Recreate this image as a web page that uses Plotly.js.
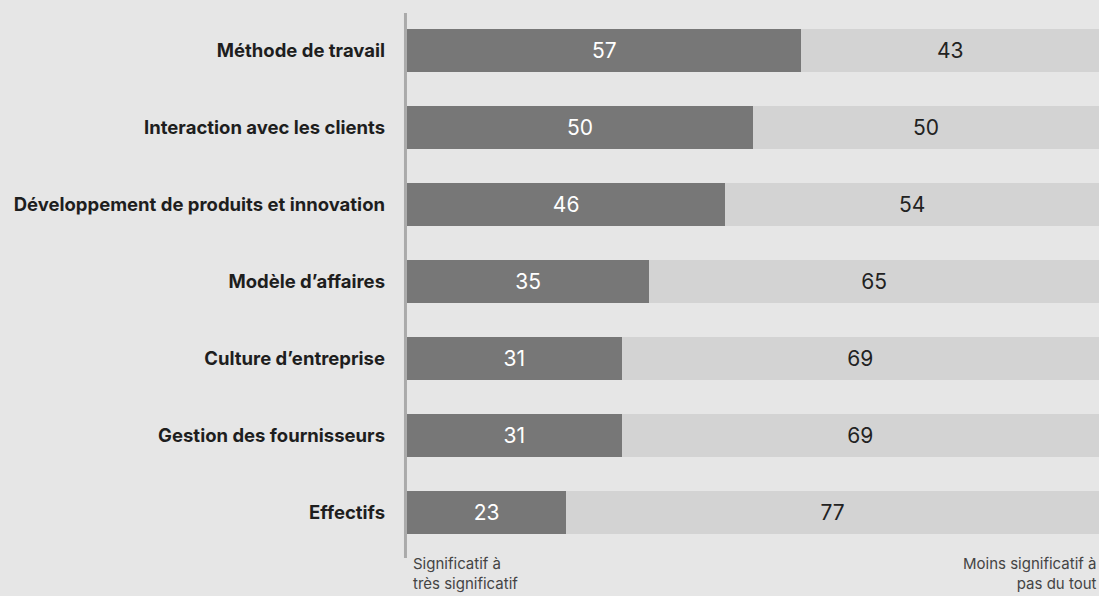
<!DOCTYPE html>
<html>
<head>
<meta charset="utf-8">
<script src="https://cdn.plot.ly/plotly-3.0.1.min.js"></script>
<style>html,body{margin:0;padding:0;background:#e6e6e6;}#chart{width:1099px;height:596px;}</style>
</head>
<body>
<div id="chart"></div>
<script>
const categories = [
  "Méthode de travail",
  "Interaction avec les clients",
  "Développement de produits et innovation",
  "Modèle d’affaires",
  "Culture d’entreprise",
  "Gestion des fournisseurs",
  "Effectifs"
];
const significant = [57, 50, 46, 35, 31, 31, 23];
const lessSignificant = [43, 50, 54, 65, 69, 69, 77];
const legendLeft = ["Significatif à", "très significatif"];
const legendRight = ["Moins significatif à", "pas du tout"];

const traces = [
  {
    type: 'bar', orientation: 'h', y: categories, x: significant,
    text: significant.map(String), textposition: 'inside', insidetextanchor: 'middle',
    textfont: {color: '#ffffff', size: 21, family: 'Inter, sans-serif'},
    marker: {color: '#777777'}, hoverinfo: 'none', cliponaxis: false
  },
  {
    type: 'bar', orientation: 'h', y: categories, x: lessSignificant,
    text: lessSignificant.map(String), textposition: 'inside', insidetextanchor: 'middle',
    textfont: {color: '#222222', size: 21, family: 'Inter, sans-serif'},
    marker: {color: '#d3d3d3'}, hoverinfo: 'none', cliponaxis: false
  }
];

const legendFont = {family: 'Inter, sans-serif', size: 15, color: '#444444'};
const annotations = [
  {text: legendLeft.join('<br>'), xref: 'paper', yref: 'paper', x: 0, y: -0.0816,
   xanchor: 'left', yanchor: 'bottom', align: 'left', xshift: 4, showarrow: false, font: legendFont},
  {text: legendRight.join('<br>'), xref: 'paper', yref: 'paper', x: 1, y: -0.0816,
   xanchor: 'right', yanchor: 'bottom', align: 'right', xshift: 0, showarrow: false, font: legendFont}
];

const layout = {
  width: 1099, height: 596,
  margin: {l: 407, r: 0, t: 12, b: 45},
  paper_bgcolor: '#e6e6e6', plot_bgcolor: '#e6e6e6',
  barmode: 'stack', bargap: 0.44, showlegend: false,
  xaxis: {range: [0, 100], showgrid: false, zeroline: false, showticklabels: false, showline: false, fixedrange: true},
  yaxis: {autorange: 'reversed', showgrid: false, zeroline: false, showline: false,
    ticks: '', ticklabelstandoff: 21,
    tickfont: {family: 'Inter, sans-serif', size: 18.5, color: '#1e1e1e', weight: 'bold'}},
  shapes: [{type: 'line', xref: 'paper', yref: 'paper', x0: -0.0022, x1: -0.0022, y0: 0.998, y1: -0.013,
    line: {color: '#aaaaaa', width: 3}}],
  annotations: annotations
};

Plotly.newPlot('chart', traces, layout, {displayModeBar: false, staticPlot: true});
</script>
</body>
</html>
